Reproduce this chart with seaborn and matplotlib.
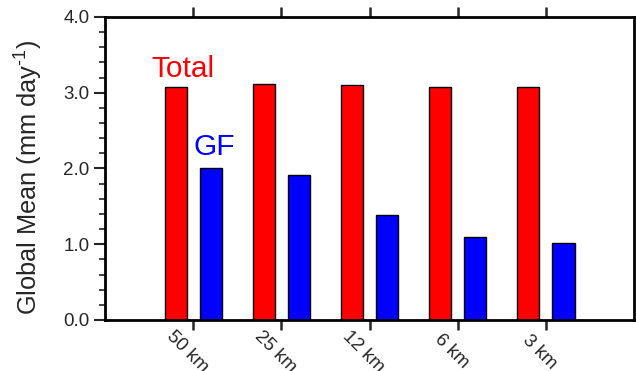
import matplotlib
matplotlib.use("Agg")

import numpy as np
import pandas as pd
import seaborn as sns
from matplotlib import pyplot as plt
from matplotlib.ticker import MultipleLocator

resolutions = ["50 km", "25 km", "12 km", "6 km", "3 km"]
total_mean = [3.07, 3.11, 3.10, 3.08, 3.07]
gf_mean = [2.00, 1.92, 1.39, 1.10, 1.01]
series_names = ["Total", "GF"]
series_colors = ["#ff0000", "#0000ff"]

frame = pd.DataFrame(
    {
        "resolution": resolutions * 2,
        "series": [series_names[0]] * len(resolutions) + [series_names[1]] * len(resolutions),
        "value": total_mean + gf_mean,
    }
)

sns.set_style("white")
plt.rcParams["font.family"] = ["Liberation Sans", "DejaVu Sans"]
plt.rcParams["mathtext.default"] = "regular"

fig = plt.figure(figsize=(6.36, 3.71), dpi=100)
ax = fig.add_axes([0.1651, 0.1375, 0.9969 - 0.1651, 0.9542 - 0.1375])

sns.barplot(
    data=frame,
    x="resolution",
    y="value",
    hue="series",
    order=resolutions,
    hue_order=series_names,
    palette=series_colors,
    width=0.8,
    gap=0.375,
    edgecolor="black",
    linewidth=1.0,
    saturation=1.0,
    legend=False,
    ax=ax,
)

ax.set_xlim(-1, 5)
ax.set_ylim(0, 4)
ax.yaxis.set_major_locator(MultipleLocator(1.0))
ax.yaxis.set_minor_locator(MultipleLocator(0.2))
ax.set_yticks(np.arange(0, 4.01, 1.0), labels=[f"{v:.1f}" for v in np.arange(0, 4.01, 1.0)])
ax.set_xticks(range(len(resolutions)), labels=resolutions, rotation=-45, ha="center", va="top",
              rotation_mode="anchor")

for spine in ax.spines.values():
    spine.set_visible(True)
    spine.set_linewidth(2.0)
    spine.set_color("black")

ax.tick_params(axis="y", which="major", direction="out", length=8, width=1.5, labelsize=13.5, pad=3, left=True)
ax.tick_params(axis="y", which="minor", direction="out", length=4, width=1.2, left=True)
ax.tick_params(axis="x", which="major", direction="out", length=7.5, width=1.8, labelsize=13.5, pad=11,
               bottom=True, top=True, labeltop=False)

ax.set_xlabel("")
ax.set_ylabel("Global Mean (mm day$^{\\mathregular{\u2010}1}$)", fontsize=18.3)
ax.yaxis.set_label_coords(-0.113, 0.47)

ax.text(0.53 - 1, 3.21, series_names[0], color=series_colors[0], fontsize=21.5)
ax.text(1.0 - 1, 2.18, series_names[1], color=series_colors[1], fontsize=21.5)

fig.savefig("out.png", dpi=100)
plt.close(fig)
